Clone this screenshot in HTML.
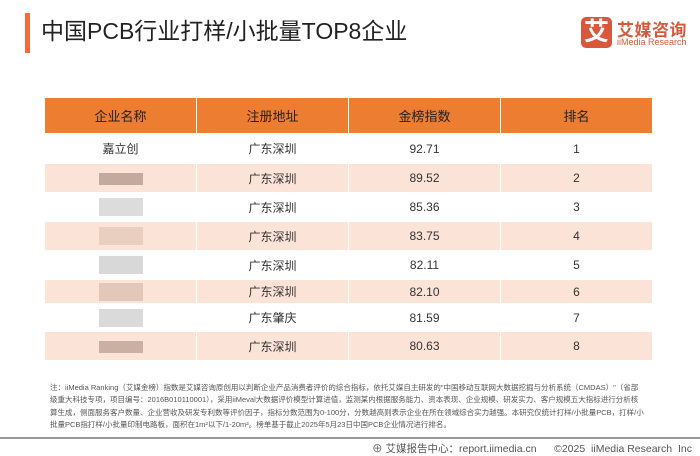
<!DOCTYPE html>
<html><head><meta charset="utf-8"><style>
body{margin:0;width:700px;height:455px;background:#fff;position:relative;overflow:hidden;font-family:"Liberation Sans","Noto Sans CJK SC",sans-serif;}
.bar{position:absolute;left:25px;top:13px;width:5px;height:40px;background:#f26b38;}
.title{position:absolute;left:41px;top:15px;font-size:23px;color:#222;line-height:32px;}
.logo{position:absolute;left:581px;top:17px;width:31px;height:31px;background:#d9583b;border-radius:5px;color:#fff;font-size:25px;font-weight:bold;text-align:center;line-height:31px;}
.lt1{position:absolute;left:617px;top:16px;font-size:17px;color:#d9583b;font-weight:bold;letter-spacing:0.5px;}
.lt2{position:absolute;left:617px;top:37px;font-size:9px;color:#d9583b;}
table{position:absolute;left:44px;top:98px;width:609px;border-collapse:collapse;font-size:12px;color:#333;}
td,th{text-align:center;padding:0;border-left:1px solid #fff;border-right:1px solid #fff;width:25%;}
th{background:#ed7d31;color:#222;font-weight:normal;font-size:13px;height:35px;}
tr.p td{background:#fbe3d8;}
.blur{display:inline-block;width:44px;height:12px;vertical-align:middle;}
.note{position:absolute;left:50px;top:382px;font-size:7.5px;line-height:12.4px;color:#555;white-space:nowrap;}
.hr{position:absolute;left:0;top:437px;width:700px;height:2px;background:#999;}
.foot{position:absolute;right:8px;top:441px;font-size:10.5px;color:#555;}
</style></head><body>
<div class="bar"></div>
<div class="title">中国PCB行业打样/小批量TOP8企业</div>
<div class="logo">艾</div>
<div class="lt1">艾媒咨询</div>
<div class="lt2">iiMedia Research</div>
<table>
<tr><th>企业名称</th><th>注册地址</th><th>金榜指数</th><th>排名</th></tr>
<tr style="height:31px"><td>嘉立创</td><td>广东深圳</td><td>92.71</td><td>1</td></tr>
<tr class="p" style="height:28px"><td><span class="blur" style="background:#c4aa9c"></span></td><td>广东深圳</td><td>89.52</td><td>2</td></tr>
<tr style="height:30px"><td><span class="blur" style="background:#dcdcdc;height:18px"></span></td><td>广东深圳</td><td>85.36</td><td>3</td></tr>
<tr class="p" style="height:28px"><td><span class="blur" style="background:#e8cfc0;height:18px"></span></td><td>广东深圳</td><td>83.75</td><td>4</td></tr>
<tr style="height:30px"><td><span class="blur" style="background:#d8d8d8;height:18px"></span></td><td>广东深圳</td><td>82.11</td><td>5</td></tr>
<tr class="p" style="height:23px"><td><span class="blur" style="background:#e3c8b9;height:18px"></span></td><td>广东深圳</td><td>82.10</td><td>6</td></tr>
<tr style="height:29px"><td><span class="blur" style="background:#dadada;height:18px"></span></td><td>广东肇庆</td><td>81.59</td><td>7</td></tr>
<tr class="p" style="height:28px"><td><span class="blur" style="background:#c9b0a3"></span></td><td>广东深圳</td><td>80.63</td><td>8</td></tr>
</table>
<div class="note">注：iiMedia Ranking（艾媒金榜）指数是艾媒咨询原创用以判断企业产品消费者评价的综合指标，依托艾媒自主研发的"中国移动互联网大数据挖掘与分析系统（CMDAS）"（省部<br>级重大科技专项，项目编号：2016B010110001），采用iiMeval大数据评价模型计算进值，监测某内根据服务能力、资本表现、企业规模、研发实力、客户规模五大指标进行分析核<br>算生成，侧面服务客户数量、企业营收及研发专利数等评价因子，指标分数范围为0-100分，分数越高则表示企业在所在领域综合实力越强。本研究仅统计打样/小批量PCB，打样/小<br>批量PCB指打样/小批量印制电路板，面积在1m²以下/1-20m²。榜单基于截止2025年5月23日中国PCB企业情况进行排名。</div>
<div class="hr"></div>
<div class="foot">⊕ 艾媒报告中心：report.iimedia.cn &nbsp;&nbsp;&nbsp;&nbsp;&nbsp;©2025 &nbsp;iiMedia Research &nbsp;Inc</div>
</body></html>
